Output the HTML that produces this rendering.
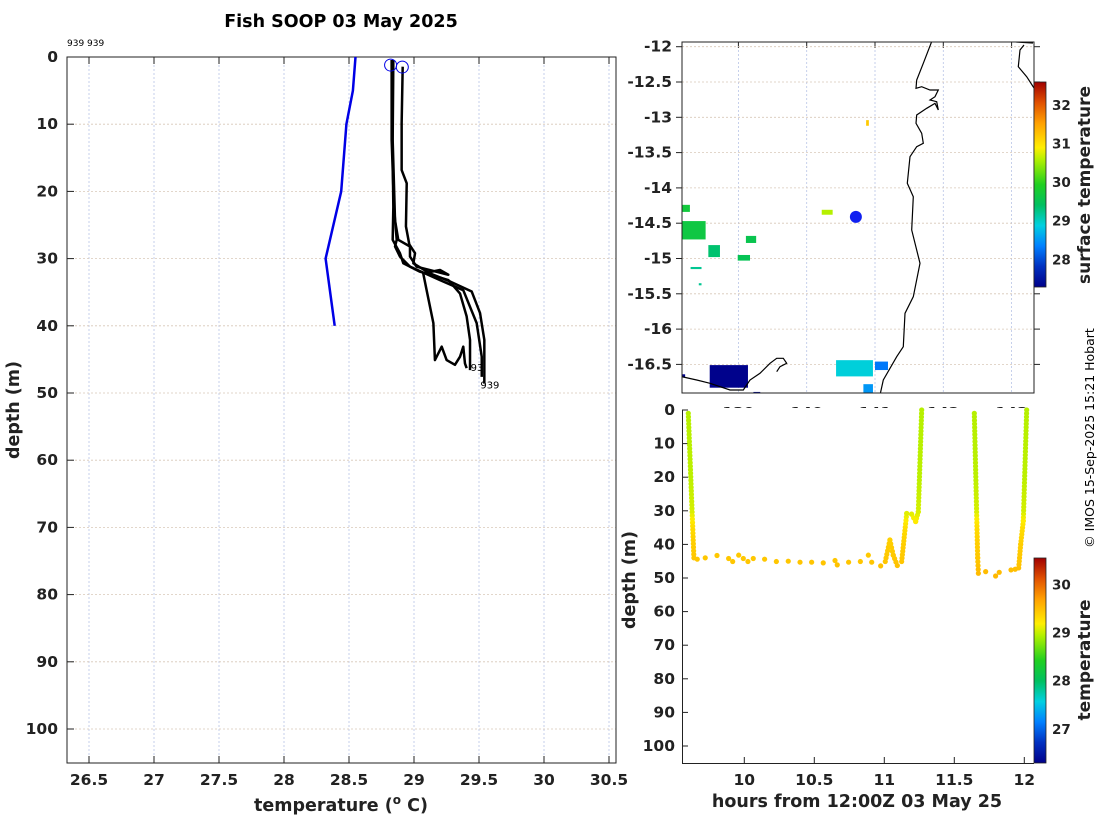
<!DOCTYPE html>
<html><head><meta charset="utf-8"><style>
body{margin:0;background:#fff;}
svg{display:block;font-family:"DejaVu Sans","Liberation Sans",sans-serif;font-weight:bold;}
</style></head><body>
<svg id="fig" width="1100" height="820" viewBox="0 0 1100 820" xmlns="http://www.w3.org/2000/svg">
<defs>
<linearGradient id="cmap" x1="0" y1="1" x2="0" y2="0">
<stop offset="0" stop-color="#00008a"/><stop offset="0.1" stop-color="#0030c0"/><stop offset="0.2" stop-color="#0080ff"/><stop offset="0.3" stop-color="#00d0e0"/><stop offset="0.4" stop-color="#00c060"/><stop offset="0.5" stop-color="#20d020"/><stop offset="0.62" stop-color="#b0f000"/><stop offset="0.68" stop-color="#ffee00"/><stop offset="0.8" stop-color="#ffa000"/><stop offset="0.9" stop-color="#e05000"/><stop offset="1" stop-color="#a00000"/>
</linearGradient>
</defs>
<text x="341" y="27" text-anchor="middle" font-size="17.5">Fish SOOP 03 May 2025</text>
<text x="67" y="46" font-size="9" font-weight="normal">939 939</text>
<g id="left"></g>
<g id="map"></g>
<g id="hov"></g>
<text transform="translate(1094,438) rotate(-90)" text-anchor="middle" font-size="12.5" font-weight="normal">© IMOS 15-Sep-2025 15:21 Hobart</text>
</svg>
<script>
// ---------- data ----------
const leftTempTicks = [26.5,27,27.5,28,28.5,29,29.5,30,30.5];
const leftDepthTicks = [0,10,20,30,40,50,60,70,80,90,100];
const climDepth = [0,5,10,20,30,40];
const climTemp = [28.55,28.53,28.48,28.44,28.32,28.39];
const prof1 = [[28.913,1.44],[28.905,9.87],[28.905,16.82],[28.944,18.8],[28.938,25.2],[28.964,27.9],[29.008,29.2],[28.995,30.7],[29.123,32.2],[29.277,33.4],[29.444,34.9],[29.508,38.1],[29.541,42.1],[29.541,48.6]];
const prof2 = [[28.828,0.45],[28.828,12.35],[28.846,22.3],[28.867,27.2],[28.854,28.2],[28.892,29.7],[28.969,31.2],[29.200,33.2],[29.379,34.7],[29.482,39.6],[29.521,44.6],[29.521,47.6]];
const prof3 = [[28.836,0.45],[28.831,7.39],[28.841,22.3],[28.836,27.2],[28.892,29.2],[28.918,30.7],[29.046,31.95],[29.264,33.2],[29.354,35.2],[29.405,38.6],[29.431,42.1],[29.431,46.6]];
const prof4 = [[28.841,0.45],[28.836,12.35],[28.854,24.3],[28.879,27.2],[28.969,28.2],[28.969,29.7],[29.020,31.2],[29.264,32.4],[29.200,31.7],[29.071,32.2],[29.097,34.7],[29.149,39.6],[29.161,45.1],[29.213,43.1],[29.251,45.1],[29.315,45.8],[29.354,44.6],[29.379,43.1],[29.392,45.6],[29.405,46.3]];
const blackProfiles = [prof1,prof2,prof3,prof4];
const startTemps = [28.82,28.91];
const startDepths = [1.2,1.5];

const mapLatTicks = [-12,-12.5,-13,-13.5,-14,-14.5,-15,-15.5,-16,-16.5];
const mapLonTicks = [139,140,141,142,143];
const sstCbTicks = [28,29,30,31,32];
// [lon0, lat0, lon1, lat1, temp]
const sstPatches = [
 [138.18,-14.47,138.52,-14.73,29.65],[138.18,-14.24,138.29,-14.34,29.7],[138.56,-14.81,138.73,-14.98,29.35],
 [139.11,-14.68,139.26,-14.78,29.55],[138.99,-14.95,139.17,-15.03,29.5],[138.30,-15.12,138.46,-15.15,29.2],
 [138.42,-15.35,138.46,-15.38,29.2],
 [140.22,-14.31,140.38,-14.38,30.6],[140.87,-13.04,140.91,-13.12,31.2],
 [138.58,-16.51,139.14,-16.83,27.3],[138.18,-16.64,138.22,-16.68,27.3],[139.22,-16.89,139.32,-16.95,27.4],
 [140.43,-16.44,140.97,-16.67,28.9],[141.0,-16.46,141.19,-16.58,28.3],[140.83,-16.78,140.97,-16.95,28.5]
];
const shipLon = 140.72, shipLat = -14.41;

const hovTimeTicks = [10,10.5,11,11.5,12];
const hovDepthTicks = [0,10,20,30,40,50,60,70,80,90,100];
const hovCbTicks = [27,28,29,30];
const castPaths = [
 [[9.600,1],[9.640,44]],
 [[11.007,45.1],[11.040,38.7],[11.064,43.2],[11.093,46.3]],
 [[11.124,45.1],[11.160,30.8]],
 [[11.160,30.8],[11.195,31.0],[11.224,33.2],[11.243,30.3]],
 [[11.243,30.3],[11.267,0]],
 [[11.643,1],[11.667,44],[11.672,48.6]],
 [[11.960,47],[11.974,40],[11.993,33],[12.017,0]]
];
const bottomHours = [9.664,9.721,9.805,9.888,9.917,9.960,9.993,10.026,10.064,10.145,10.229,10.314,10.398,10.481,10.564,10.648,10.664,10.745,10.829,10.886,10.910,10.974,11.724,11.795,11.821,11.905,11.935];
const bottomDepths = [44.4,44.0,43.3,44.2,45.1,43.2,44.2,45.1,44.2,44.4,45.1,45.0,45.3,45.3,45.5,44.8,46.1,45.3,45.1,43.2,45.3,46.4,48.1,49.4,48.3,47.6,47.4];
const tpDepth = [0,20,30,35,40,45,50];
const tpTemp = [28.95,28.97,29.05,29.3,29.4,29.45,29.55];

// ---------- helpers ----------
const NS="http://www.w3.org/2000/svg";
function mk(tag, attrs, parent, txt){const e=document.createElementNS(NS,tag);for(const k in attrs)e.setAttribute(k,attrs[k]);if(txt!==undefined)e.textContent=txt;parent.appendChild(e);return e;}
const stops=[[0,[0,0,138]],[0.1,[0,48,192]],[0.2,[0,128,255]],[0.3,[0,208,224]],[0.4,[0,192,96]],[0.5,[32,208,32]],[0.62,[176,240,0]],[0.68,[255,238,0]],[0.8,[255,160,0]],[0.9,[224,80,0]],[1,[160,0,0]]];
function cmap(f){f=Math.max(0,Math.min(1,f));for(let i=1;i<stops.length;i++){if(f<=stops[i][0]){const a=stops[i-1],b=stops[i];const t=(f-a[0])/(b[0]-a[0]);const c=a[1].map((v,j)=>Math.round(v+(b[1][j]-v)*t));return `rgb(${c})`;}}return 'rgb(160,0,0)';}
function interp(xs,ys,x){if(x<=xs[0])return ys[0];for(let i=1;i<xs.length;i++){if(x<=xs[i]){return ys[i-1]+(ys[i]-ys[i-1])*(x-xs[i-1])/(xs[i]-xs[i-1]);}}return ys[ys.length-1];}
const TF=15.5, AF=17.5;

// ---------- left plot ----------
const L=document.getElementById('left');
const lx=t=>89+(t-26.5)*130, ly=d=>57+d*6.72;
leftTempTicks.forEach(t=>{
  const g=mk('line',{x1:lx(t),x2:lx(t),y1:57,y2:763,stroke:'#b8c4e6','stroke-width':0.8,'stroke-dasharray':'2,2'},L);
  
  const tk=mk('line',{x1:lx(t),x2:lx(t),y1:763,y2:756,stroke:'#222'},L);
  
  const tk2=mk('line',{x1:lx(t),x2:lx(t),y1:57,y2:64,stroke:'#222'},L);
  
  const tx=mk('text',{x:lx(t),y:785,'text-anchor':'middle','font-size':TF,fill:'#222'},L,String(t));
  
});
leftDepthTicks.forEach(d=>{
  const g=mk('line',{x1:67,x2:616,y1:ly(d),y2:ly(d),stroke:'#d8c8b8','stroke-width':0.8,'stroke-dasharray':'2,2'},L);
  
  const tk=mk('line',{x1:67,x2:74,y1:ly(d),y2:ly(d),stroke:'#222'},L);
  
  const tx=mk('text',{x:58,y:ly(d)+5,'text-anchor':'end','font-size':TF,fill:'#222'},L,String(d));
  
});
const lb=mk('rect',{x:67,y:57,width:549,height:706,fill:'none',stroke:'#222','stroke-width':1},L);

const cl=mk('polyline',{points:climDepth.map((d,i)=>lx(climTemp[i])+','+ly(d)).join(' '),fill:'none',stroke:'#0000e6','stroke-width':2.5},L);

blackProfiles.forEach(p=>{
  const pl=mk('polyline',{points:p.map(q=>lx(q[0])+','+ly(q[1])).join(' '),fill:'none',stroke:'#000','stroke-width':2.5,'stroke-linejoin':'round'},L);
  
});
startTemps.forEach((t,i)=>{
  const c=mk('circle',{cx:lx(t),cy:ly(startDepths[i]),r:6,fill:'none',stroke:'#0000e6','stroke-width':1},L);
  
});
const t1=mk('text',{x:lx(prof1[prof1.length-1][0])-4,y:ly(prof1[prof1.length-1][1])+5,'font-size':10,'font-weight':'normal'},L,'939');

const t2=mk('text',{x:lx(prof4[prof4.length-1][0])+4,y:ly(prof4[prof4.length-1][1])+3,'font-size':10,'font-weight':'normal'},L,'93');

const lxl=mk('text',{x:341,y:811,'text-anchor':'middle','font-size':AF,fill:'#222'},L,'temperature (');

mk('tspan',{dy:-7,'font-size':12},lxl,'o');mk('tspan',{dy:7},lxl,' C)');
const lyl=mk('text',{transform:'translate(19,410) rotate(-90)','text-anchor':'middle','font-size':AF,fill:'#222'},L,'depth (m)');


// ---------- map ----------
const M=document.getElementById('map');
const mx=lo=>806.7+(lo-140)*68.3, my=la=>46.7+(-12-la)*70.6;
mk('clipPath',{id:'mclip'},M);
mk('rect',{x:682,y:42,width:352,height:351},document.getElementById('mclip'));
mapLonTicks.forEach(lo=>{
  const g=mk('line',{x1:mx(lo),x2:mx(lo),y1:42,y2:393,stroke:'#b8c4e6','stroke-width':0.8,'stroke-dasharray':'2,2'},M);
  
  const tk=mk('line',{x1:mx(lo),x2:mx(lo),y1:42,y2:48,stroke:'#222'},M);
  
  const tx=mk('text',{x:mx(lo),y:418,'text-anchor':'middle','font-size':TF,fill:'#222'},M,String(lo));
  
});
mapLatTicks.forEach(la=>{
  const g=mk('line',{x1:682,x2:1034,y1:my(la),y2:my(la),stroke:'#d8c8b8','stroke-width':0.8,'stroke-dasharray':'2,2'},M);
  
  const tk=mk('line',{x1:676,x2:682,y1:my(la),y2:my(la),stroke:'#222'},M);
  
  const tk2=mk('line',{x1:1034,x2:1040,y1:my(la),y2:my(la),stroke:'#222'},M);
  
  const tx=mk('text',{x:672,y:my(la)+5,'text-anchor':'end','font-size':TF,fill:'#222'},M,String(la));
  
});
const smin=27.28, smax=32.6;
const MG=mk('g',{'clip-path':'url(#mclip)'},M);
sstPatches.forEach(p=>{
  const r=mk('rect',{x:mx(p[0]),y:my(p[1]),width:mx(p[2])-mx(p[0]),height:my(p[3])-my(p[1]),fill:cmap((p[4]-smin)/(smax-smin))},MG);
  
});
const coast=mk('path',{d:'M945,33 L935,33 923.3,63.3 916.7,80 916,88.3 921.7,86.7 930,90 938.3,90 935,96.7 930,100 936.7,101.7 938.3,110 935,103.3 926.7,108.3 916.7,115 916,123.3 921.7,133.3 923.3,143.3 916.7,146.7 910,156.7 907.3,183.3 913.3,196.7 911.7,230 920,263.3 913.3,296.7 905,313.3 903.3,346.7 896.7,356.7 883.3,380 880,395 M682,376.7 L696.7,380 710,383.3 730,390 743.3,390 750,380 760,373.3 770,363.3 776.7,358.3 783.3,358.3 786.7,363.3 780,366.7 776.7,371.7 M1011.7,41.7 L1033,43 M1024,45 L1020,50 1018.3,66.7 1026.7,76.7 1034,88',fill:'none',stroke:'#000','stroke-width':1.2},MG);

const ship=mk('circle',{cx:mx(shipLon),cy:my(shipLat),r:6,fill:'#1020f0'},MG);

const mf=mk('rect',{x:682,y:42,width:352,height:351,fill:'none',stroke:'#222','stroke-width':1},M);

const cb1=mk('rect',{x:1034,y:82,width:12,height:205,fill:'url(#cmap)',stroke:'#222','stroke-width':0.8},M);

sstCbTicks.forEach(v=>{
  const y=287-(v-smin)/(smax-smin)*205;
  const tx=mk('text',{x:1052,y:y+5,'font-size':13.5,fill:'#222'},M,String(v));
  
});
const cbt1=mk('text',{transform:'translate(1090,185) rotate(-90)','text-anchor':'middle','font-size':17,fill:'#222'},M,'surface temperature');


// ---------- depth-time plot ----------
const H=document.getElementById('hov');
const hx=h=>744.3+(h-10)*140, hy=d=>410+d*3.36;
const bg=mk('rect',{x:682,y:408,width:352,height:355,fill:'#fff'},H);

hovTimeTicks.forEach(h=>{
  const tk=mk('line',{x1:hx(h),x2:hx(h),y1:763,y2:757,stroke:'#222'},H);
  
  const tx=mk('text',{x:hx(h),y:785,'text-anchor':'middle','font-size':TF,fill:'#222'},H,String(h));
  
});
hovDepthTicks.forEach(d=>{
  const tk=mk('line',{x1:682,x2:688,y1:hy(d),y2:hy(d),stroke:'#222'},H);
  
  const tx=mk('text',{x:675,y:hy(d)+5,'text-anchor':'end','font-size':TF,fill:'#222'},H,String(d));
  
});
const ax=mk('path',{d:'M682.5,410 L682.5,763.5 L1034,763.5',fill:'none',stroke:'#222','stroke-width':1},H);

const hmin=26.29,hmax=30.55;
function dot(h,d){
  const c=mk('circle',{cx:hx(h),cy:hy(d),r:2.6,fill:cmap((interp(tpDepth,tpTemp,d)-hmin)/(hmax-hmin))},H);
  
}
castPaths.forEach(p=>{
  for(let i=1;i<p.length;i++){
    const a=p[i-1],b=p[i];const len=Math.hypot(hx(b[0])-hx(a[0]),hy(b[1])-hy(a[1]));
    const n=Math.max(1,Math.round(len/3.5));
    for(let k=0;k<=n;k++){const t=k/n;dot(a[0]+(b[0]-a[0])*t,a[1]+(b[1]-a[1])*t);}
  }
});
bottomHours.forEach((h,i)=>dot(h,bottomDepths[i]));
const cb2=mk('rect',{x:1034,y:558,width:12,height:205,fill:'url(#cmap)',stroke:'#222','stroke-width':0.8},H);

hovCbTicks.forEach(v=>{
  const y=763-(v-hmin)/(hmax-hmin)*205;
  const tx=mk('text',{x:1052,y:y+5,'font-size':13.5,fill:'#222'},H,String(v));
  
});
const cbt2=mk('text',{transform:'translate(1090,660) rotate(-90)','text-anchor':'middle','font-size':17,fill:'#222'},H,'temperature');

const hxl=mk('text',{x:857,y:807,'text-anchor':'middle','font-size':AF,fill:'#222'},H,'hours from 12:00Z 03 May 25');

const hyl=mk('text',{transform:'translate(635,580) rotate(-90)','text-anchor':'middle','font-size':AF,fill:'#222'},H,'depth (m)');

</script>
</body></html>
